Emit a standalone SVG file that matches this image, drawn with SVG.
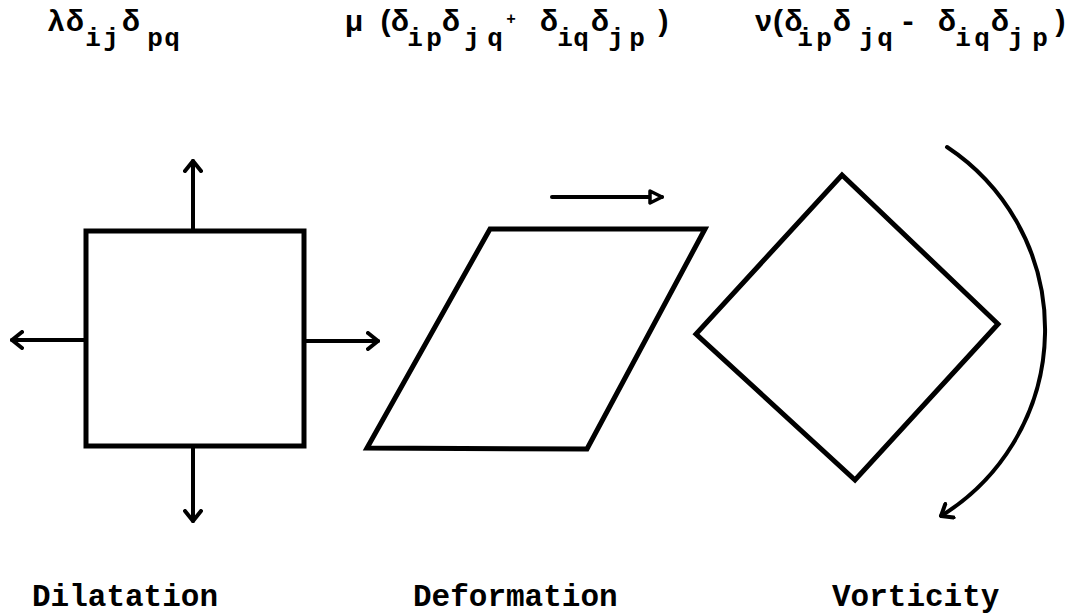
<svg xmlns="http://www.w3.org/2000/svg" width="1074" height="616" viewBox="0 0 1074 616">
<defs>
<style>
.shape{fill:none;stroke:#000;stroke-width:5;stroke-linejoin:miter}
.conn{fill:none;stroke:#000;stroke-width:4;stroke-linecap:round}
.eq{font-family:"Liberation Mono","DejaVu Sans Mono",monospace;font-weight:bold;fill:#000;text-anchor:middle}
.m{font-size:30px}
.s{font-size:26px}
.lbl{font-family:"Liberation Mono","DejaVu Sans Mono",monospace;font-weight:bold;font-size:31px;fill:#000}
</style>
<marker id="chev" viewBox="0 0 14 20" markerWidth="14" markerHeight="20" refX="12" refY="10" orient="auto" markerUnits="userSpaceOnUse">
<path d="M2,2 L12,10 L2,18" fill="none" stroke="#000" stroke-width="4" stroke-linecap="round" stroke-linejoin="round"/>
</marker>
<marker id="tri" viewBox="0 0 16 16" markerWidth="16" markerHeight="16" refX="14" refY="8" orient="auto" markerUnits="userSpaceOnUse">
<path d="M2,2 L14,8 L2,14 Z" fill="#fff" stroke="#000" stroke-width="3.5" stroke-linejoin="round"/>
</marker>
</defs>
<rect width="1074" height="616" fill="#fff"/>

<g id="eq-dilatation" class="eq">
<text><tspan class="m" x="56" y="31">λ</tspan><tspan class="m" x="75" y="31">δ</tspan><tspan class="s" x="93" y="46">i</tspan><tspan class="s" x="111" y="46">j</tspan><tspan class="m" x="131" y="31">δ</tspan><tspan class="s" x="155" y="46">p</tspan><tspan class="s" x="172" y="46">q</tspan></text>
</g>
<g id="eq-deformation" class="eq">
<text><tspan class="m" x="354" y="31">μ</tspan><tspan class="m" x="391" y="31" letter-spacing="-4">(δ</tspan><tspan class="s" x="415" y="46">i</tspan><tspan class="s" x="434" y="46">p</tspan><tspan class="m" x="451" y="31">δ</tspan><tspan class="s" x="472" y="46">j</tspan><tspan class="s" x="495" y="46">q</tspan><tspan x="511" y="24" font-size="16">+</tspan><tspan class="m" x="549" y="31">δ</tspan><tspan class="s" x="565" y="46">i</tspan><tspan class="s" x="581" y="46">q</tspan><tspan class="m" x="600" y="31">δ</tspan><tspan class="s" x="616" y="46">j</tspan><tspan class="s" x="637" y="46">p</tspan><tspan class="m" x="663" y="31">)</tspan></text>
</g>
<g id="eq-vorticity" class="eq">
<text><tspan class="m" x="777" y="31" letter-spacing="-3">ν(δ</tspan><tspan class="s" x="805" y="46">i</tspan><tspan class="s" x="824" y="46">p</tspan><tspan class="m" x="842" y="31">δ</tspan><tspan class="s" x="867" y="46">j</tspan><tspan class="s" x="885" y="46">q</tspan><tspan class="m" x="908" y="31">-</tspan><tspan class="m" x="947" y="31">δ</tspan><tspan class="s" x="963" y="46">i</tspan><tspan class="s" x="982" y="46">q</tspan><tspan class="m" x="1000" y="31">δ</tspan><tspan class="s" x="1016" y="46">j</tspan><tspan class="s" x="1040" y="46">p</tspan><tspan class="m" x="1060" y="31">)</tspan></text>
</g>

<g id="square">
<rect class="shape" x="86" y="231" width="218" height="215"/>
</g>
<g id="parallelogram">
<polygon class="shape" points="490,229 705,229 587,449 367,448"/>
</g>
<g id="diamond">
<polygon class="shape" points="842,175 998,324 855,480 696,334"/>
</g>

<g id="connectors">
<path class="conn" d="M193,231 L193,161" marker-end="url(#chev)"/>
<path class="conn" d="M193,446 L193,521" marker-end="url(#chev)"/>
<path class="conn" d="M86,340 L12,340" marker-end="url(#chev)"/>
<path class="conn" d="M304,341 L378,341" marker-end="url(#chev)"/>
<path class="conn" d="M552,197 L662,197" marker-end="url(#tri)"/>
<path class="conn" d="M947,147 A219,219 0 0 1 941,516" marker-end="url(#chev)"/>
</g>

<g id="labels">
<text class="lbl" x="32" y="606">Dilatation</text>
<text class="lbl" x="413" y="606">Deformation</text>
<text class="lbl" x="832" y="606">Vorticity</text>
</g>
</svg>
